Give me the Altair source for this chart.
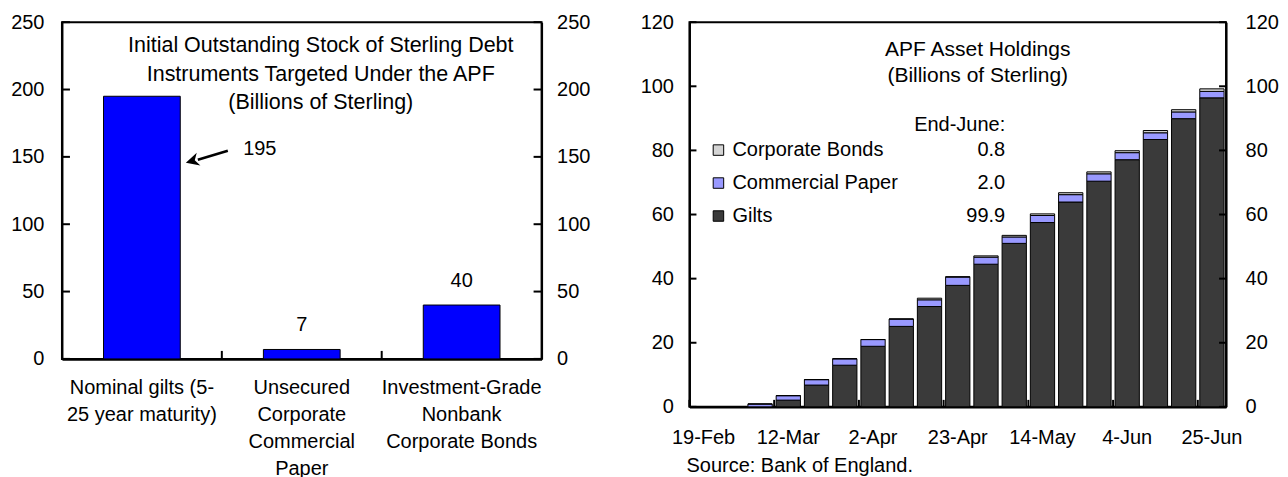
import altair as alt
import pandas as pd

# ---------------- data: left panel ----------------
categories = [
    "Nominal gilts (5-\n25 year maturity)",
    "Unsecured\nCorporate\nCommercial\nPaper",
    "Investment-Grade\nNonbank\nCorporate Bonds",
]
stock = [195, 7, 40]
stock_labels = ["195", "7", "40"]
left_ticks = [0, 50, 100, 150, 200, 250]
left_title = "Initial Outstanding Stock of Sterling Debt\nInstruments Targeted Under the APF\n(Billions of Sterling)"
annot_y = [156]  # level of the "195" call-out

# ---------------- data: right panel ----------------
weeks = ["19-Feb", "26-Feb", "5-Mar", "12-Mar", "19-Mar", "26-Mar", "2-Apr", "9-Apr",
         "16-Apr", "23-Apr", "30-Apr", "7-May", "14-May", "21-May", "28-May", "4-Jun",
         "11-Jun", "18-Jun", "25-Jun"]
gilts = [0, 0, 0, 2.1, 6.8, 13.0, 18.9, 25.1, 31.3, 37.9, 44.5, 51.0, 57.5, 63.9, 70.4,
         77.1, 83.4, 89.9, 96.4]
comm_paper = [0, 0, 0.9, 1.4, 1.7, 2.0, 2.1, 2.3, 2.1, 2.6, 2.2, 2.0, 2.2, 2.3, 2.3,
              2.2, 2.1, 2.1, 2.0]
corp_bonds = [0, 0, 0, 0, 0, 0, 0, 0, 0.5, 0.1, 0.4, 0.5, 0.5, 0.6, 0.6, 0.6, 0.7, 0.7, 0.8]
series = ["Corporate Bonds", "Commercial Paper", "Gilts"]
series_colors = ["#d4d4d4", "#9999ff", "#3a3a3a"]
end_june = ["0.8", "2.0", "99.9"]
right_ticks = [0, 20, 40, 60, 80, 100, 120]
week_labels = weeks[::3]
right_title = "APF Asset Holdings\n(Billions of Sterling)"
source_note = "Source: Bank of England."

FONT = "Liberation Sans"
FS = 20

# ======================= LEFT PANEL =======================
W1, H1 = 480, 337
step1 = W1 / len(categories)

left_df = pd.DataFrame({"cat": categories, "value": stock, "label": stock_labels})
ticks1_df = pd.DataFrame({"t": left_ticks})
bound_df = pd.DataFrame({"cat": categories[1:]})
annot_df = pd.DataFrame({"cat": categories[:1], "y": annot_y, "label": stock_labels[:1]})
title1_df = pd.DataFrame({"t": [left_title]})

x1 = alt.X("cat:N", sort=categories,
           scale=alt.Scale(domain=categories, paddingInner=0.52, paddingOuter=0.26),
           axis=alt.Axis(title=None, labelAngle=0, labelExpr="split(datum.label, '\\n')",
                         labelLineHeight=27, labelPadding=19, ticks=False,
                         domainWidth=2.5, labelBaseline="top"))
yscale1 = alt.Scale(domain=[0, 250], nice=False)

bars1 = alt.Chart(left_df).mark_bar(color="#0000ff", stroke="black", strokeWidth=1).encode(
    x=x1,
    y=alt.Y("value:Q", scale=yscale1,
            axis=alt.Axis(values=left_ticks, orient="left", title=None, ticks=False,
                          labelPadding=18, grid=False)),
)
lab1 = alt.Chart(left_df.iloc[1:]).mark_text(fontSize=FS, dy=-24, color="black").encode(
    x=x1, y=alt.Y("value:Q", scale=yscale1, axis=None), text="label:N")
lab195 = alt.Chart(annot_df).mark_text(fontSize=FS, xOffset=118, color="black").encode(
    x=x1, y=alt.Y("y:Q", scale=yscale1, axis=None), text="label:N")
arrow_line = alt.Chart(annot_df).mark_rule(color="black", strokeWidth=2.5,
                                           xOffset=86, yOffset=2, x2Offset=56, y2Offset=11).encode(
    x=x1, x2="cat:N", y=alt.Y("y:Q", scale=yscale1, axis=None), y2="y:Q")
arrow_head = alt.Chart(annot_df).mark_point(
    shape="M0,0 L1,-0.5 L0.7,0 L1,0.5 Z", filled=True, color="black", opacity=1,
    size=700, angle=344, xOffset=44, yOffset=14).encode(
    x=x1, y=alt.Y("y:Q", scale=yscale1, axis=None))
rt1 = alt.Chart(ticks1_df).mark_rule(color="black", strokeWidth=2).encode(
    y=alt.Y("t:Q", scale=yscale1,
            axis=alt.Axis(values=left_ticks, orient="right", title=None, ticks=False,
                          labelPadding=15, grid=False)),
    x=alt.value(W1 - 8), x2=alt.value(W1))
lt1 = alt.Chart(ticks1_df).mark_rule(color="black", strokeWidth=2).encode(
    y=alt.Y("t:Q", scale=yscale1, axis=None), x=alt.value(0), x2=alt.value(8))
bt1 = alt.Chart(bound_df).mark_rule(color="black", strokeWidth=2, xOffset=-step1 / 2).encode(
    x=x1, y=alt.value(H1), y2=alt.value(H1 - 8))
ttl1 = alt.Chart(title1_df).mark_text(fontSize=21.5, lineBreak="\n", lineHeight=28.5,
                                      baseline="middle", color="black").encode(
    x=alt.value(W1 / 2 + 19), y=alt.value(24), text="t:N")

left = alt.layer(bars1, lab1, lab195, arrow_line, arrow_head, rt1, lt1, bt1, ttl1).resolve_axis(
    y="independent").properties(width=W1, height=H1)

# ======================= RIGHT PANEL =======================
W2, H2 = 537, 385
step2 = W2 / len(weeks)

rows = []
for i, w in enumerate(weeks):
    rows.append({"week": w, "series": "Gilts", "value": gilts[i], "ord": 0})
    rows.append({"week": w, "series": "Commercial Paper", "value": comm_paper[i], "ord": 1})
    rows.append({"week": w, "series": "Corporate Bonds", "value": corp_bonds[i], "ord": 2})
right_df = pd.DataFrame(rows)
legend_df = pd.DataFrame({"series": series, "end": end_june})
ticks2_df = pd.DataFrame({"t": right_ticks})
wk_df = pd.DataFrame({"week": week_labels})
title2_df = pd.DataFrame({"t": [right_title]})
src_df = pd.DataFrame({"t": [source_note]})

x2 = alt.X("week:N", sort=weeks,
           scale=alt.Scale(domain=weeks, paddingInner=0.14, paddingOuter=0.07),
           axis=alt.Axis(values=week_labels, labelAngle=0, ticks=False, labelPadding=21,
                         title=None, domainWidth=2.5, labelBaseline="top"))
yscale2 = alt.Scale(domain=[0, 120], nice=False)
color2 = alt.Color("series:N", scale=alt.Scale(domain=series, range=series_colors), legend=None)

bars2 = alt.Chart(right_df).mark_bar(stroke="black", strokeWidth=1).encode(
    x=x2,
    y=alt.Y("value:Q", stack="zero", scale=yscale2,
            axis=alt.Axis(values=right_ticks, orient="left", title=None, ticks=False,
                          labelPadding=16, grid=False)),
    color=color2,
    order=alt.Order("ord:Q", sort="ascending"),
)
rt2 = alt.Chart(ticks2_df).mark_rule(color="black", strokeWidth=2).encode(
    y=alt.Y("t:Q", scale=yscale2,
            axis=alt.Axis(values=right_ticks, orient="right", title=None, ticks=False,
                          labelPadding=19, grid=False)),
    x=alt.value(W2 - 7), x2=alt.value(W2))
lt2 = alt.Chart(ticks2_df).mark_rule(color="black", strokeWidth=2).encode(
    y=alt.Y("t:Q", scale=yscale2, axis=None), x=alt.value(0), x2=alt.value(7))
bt2 = alt.Chart(wk_df).mark_rule(color="black", strokeWidth=2, xOffset=-step2 / 2).encode(
    x=x2, y=alt.value(H2), y2=alt.value(H2 - 7))
ttl2 = alt.Chart(title2_df).mark_text(fontSize=21, lineBreak="\n", lineHeight=26,
                                      baseline="middle", color="black").encode(
    x=alt.value(W2 / 2 + 20), y=alt.value(28), text="t:N")
endjune = alt.Chart(pd.DataFrame({"t": ["End-June:"]})).mark_text(
    fontSize=FS, align="right", baseline="middle", color="black").encode(
    x=alt.value(316), y=alt.value(103), text="t:N")
src = alt.Chart(src_df).mark_text(fontSize=FS, align="left", baseline="middle",
                                  color="black").encode(
    x=alt.value(-3), y=alt.value(H2 + 59), text="t:N")

leg_layers = []
for i, s in enumerate(series):
    sub = legend_df[legend_df["series"] == s]
    yy = 128 + 33 * i
    leg_layers.append(alt.Chart(sub).mark_square(size=110, stroke="black", strokeWidth=1,
                                                 opacity=1).encode(
        x=alt.value(29), y=alt.value(yy), color=color2))
    leg_layers.append(alt.Chart(sub).mark_text(fontSize=FS, align="left", baseline="middle",
                                               color="black").encode(
        x=alt.value(43), y=alt.value(yy), text="series:N"))
    leg_layers.append(alt.Chart(sub).mark_text(fontSize=FS, align="right", baseline="middle",
                                               color="black").encode(
        x=alt.value(316), y=alt.value(yy), text="end:N"))

right = alt.layer(bars2, rt2, lt2, bt2, ttl2, endjune, src, *leg_layers).resolve_axis(
    y="independent").properties(width=W2, height=H2)

chart = alt.hconcat(left, right, spacing=47).properties(
    padding={"left": 1, "top": 3, "right": 0, "bottom": 0}
).configure(font=FONT).configure_axis(
    labelFont=FONT, labelFontSize=FS, labelColor="black", domainColor="black",
    domainWidth=2, grid=False
).configure_view(stroke="black", strokeWidth=2)

chart.save("out.html", embed_options={"renderer": "svg", "actions": False})
